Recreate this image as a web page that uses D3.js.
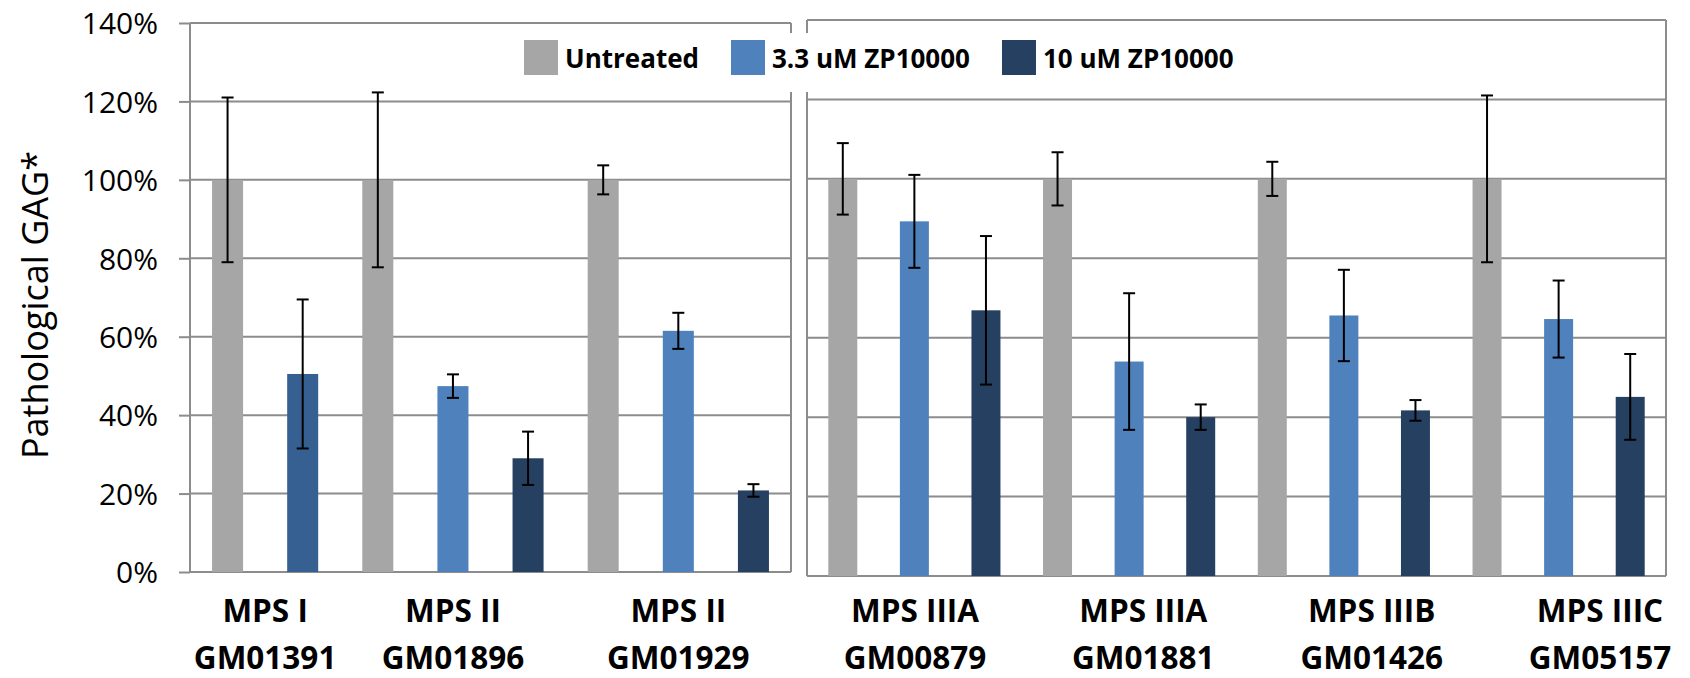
<!DOCTYPE html>
<html>
<head>
<meta charset="utf-8">
<script src="https://cdn.jsdelivr.net/npm/d3@7"></script>
<style>
  body { margin: 0; background: #fff; }
  svg { display: block; font-family: "Open Sans", sans-serif; }
</style>
</head>
<body>
<div class="chart-container"></div>
<script>
// DATA
const seriesNames = ["Untreated", "3.3 uM ZP10000", "10 uM ZP10000"];
const yTicks = [0, 20, 40, 60, 80, 100, 120, 140];

// left chart: MPS I has only two bars, the treated one drawn in its own blue
const leftGroups = [["MPS I", "GM01391"], ["MPS II", "GM01896"], ["MPS II", "GM01929"]];
const leftSlotGroup = [0, 0, 1, 1, 1, 2, 2, 2];
const leftSlotSeries = [0, 3, 0, 1, 2, 0, 1, 2];
const leftValues = [100, 50.5, 100, 47.4, 29.0, 100, 61.5, 20.8];
const leftErrors = [21.0, 19.0, 22.3, 3.0, 6.8, 3.7, 4.6, 1.6];

// right chart
const rightGroups = [["MPS IIIA", "GM00879"], ["MPS IIIA", "GM01881"], ["MPS IIIB", "GM01426"], ["MPS IIIC", "GM05157"]];
const rightSlotGroup = [0, 0, 0, 1, 1, 1, 2, 2, 2, 3, 3, 3];
const rightSlotSeries = [0, 1, 2, 0, 1, 2, 0, 1, 2, 0, 1, 2];
const rightValues = [100, 89.3, 66.9, 100, 54.0, 40.0, 100, 65.6, 41.7, 100, 64.7, 45.1];
const rightErrors = [9.0, 11.7, 18.7, 6.7, 17.2, 3.2, 4.3, 11.5, 2.6, 21.0, 9.7, 10.8];

// colours: untreated, 3.3 uM, 10 uM, MPS I treated
const colors = ["#a6a6a6", "#4f81bd", "#264061", "#376092"];
const gridColor = "#8c8c8c";

const width = 1690;
const height = 678;

const svg = d3.select(".chart-container")
  .append("svg")
  .attr("width", width)
  .attr("height", height);

// draws one framed panel with gridlines, bars and error bars
function drawPanel(p) {
  const yScale = d3.scaleLinear().domain([0, 140]).range([p.bottom, p.top]);
  const xScale = d3.scaleBand()
    .domain(d3.range(p.values.length))
    .range([p.left, p.right])
    .paddingInner(p.pad)
    .paddingOuter(p.pad / 2);

  const g = svg.append("g");

  // gridlines
  g.selectAll("line.grid")
    .data(yTicks)
    .enter()
    .append("line")
    .attr("class", "grid")
    .attr("x1", p.left)
    .attr("x2", p.right)
    .attr("y1", d => yScale(d))
    .attr("y2", d => yScale(d))
    .attr("stroke", gridColor)
    .attr("stroke-width", 2);

  // frame sides
  [p.left, p.right].forEach(x => {
    g.append("line")
      .attr("x1", x).attr("x2", x)
      .attr("y1", p.top).attr("y2", p.bottom)
      .attr("stroke", gridColor)
      .attr("stroke-width", 2);
  });

  // bars
  g.selectAll("rect.bar")
    .data(p.values)
    .enter()
    .append("rect")
    .attr("class", "bar")
    .attr("x", (d, i) => xScale(i))
    .attr("y", d => yScale(d))
    .attr("width", xScale.bandwidth())
    .attr("height", d => yScale(0) - yScale(d))
    .attr("fill", (d, i) => colors[p.series[i]]);

  // error bars
  const capW = 6;
  const eb = g.selectAll("g.err")
    .data(p.values)
    .enter()
    .append("g")
    .attr("class", "err")
    .attr("stroke", "#000")
    .attr("stroke-width", 2);

  const cx = (i) => xScale(i) + xScale.bandwidth() / 2;

  eb.append("line")
    .attr("x1", (d, i) => cx(i)).attr("x2", (d, i) => cx(i))
    .attr("y1", (d, i) => yScale(d + p.errors[i]))
    .attr("y2", (d, i) => yScale(d - p.errors[i]));
  eb.append("line")
    .attr("x1", (d, i) => cx(i) - capW).attr("x2", (d, i) => cx(i) + capW)
    .attr("y1", (d, i) => yScale(d + p.errors[i]))
    .attr("y2", (d, i) => yScale(d + p.errors[i]));
  eb.append("line")
    .attr("x1", (d, i) => cx(i) - capW).attr("x2", (d, i) => cx(i) + capW)
    .attr("y1", (d, i) => yScale(d - p.errors[i]))
    .attr("y2", (d, i) => yScale(d - p.errors[i]));

  return { xScale: xScale, yScale: yScale };
}

const left = drawPanel({
  left: 190, right: 791, top: 23, bottom: 572, pad: 0.587,
  values: leftValues, errors: leftErrors, series: leftSlotSeries
});

const right = drawPanel({
  left: 807, right: 1666, top: 20, bottom: 576, pad: 0.595,
  values: rightValues, errors: rightErrors, series: rightSlotSeries
});

// Y AXIS (left chart only)
const yAxis = d3.axisLeft(left.yScale)
  .tickValues(yTicks)
  .tickFormat(d => d + "%")
  .tickSize(11)
  .tickSizeOuter(0)
  .tickPadding(21);

const yAxisG = svg.append("g")
  .attr("transform", "translate(190,0)")
  .call(yAxis);
yAxisG.select(".domain").remove();
yAxisG.selectAll(".tick line").attr("stroke", gridColor).attr("stroke-width", 2);
yAxisG.selectAll(".tick text")
  .attr("fill", "#000")
  .style("font-family", "'Open Sans', sans-serif")
  .style("font-size", "30px")
  .attr("dy", "0.36em");

svg.append("text")
  .attr("transform", "rotate(-90)")
  .attr("x", -305)
  .attr("y", 48)
  .attr("text-anchor", "middle")
  .style("font-size", "36px")
  .attr("fill", "#000")
  .text("Pathological GAG*");

// CATEGORY LABELS
function groupLabels(groups, xPos) {
  const lab = svg.selectAll(null)
    .data(groups)
    .enter()
    .append("text")
    .attr("text-anchor", "middle")
    .style("font-size", "31.5px")
    .style("font-weight", "bold")
    .attr("fill", "#000");
  lab.append("tspan")
    .attr("x", (d, i) => xPos(i))
    .attr("y", 622)
    .text(d => d[0]);
  lab.append("tspan")
    .attr("x", (d, i) => xPos(i))
    .attr("y", 669)
    .text(d => d[1]);
}

// left labels sit under the middle of each bar group
groupLabels(leftGroups, function (gi) {
  const centers = leftSlotGroup
    .map((g, i) => g === gi ? left.xScale(i) + left.xScale.bandwidth() / 2 : null)
    .filter(v => v !== null);
  return d3.mean(centers);
});

// right labels are evenly spaced text boxes
const rightLabelScale = d3.scalePoint()
  .domain(d3.range(rightGroups.length))
  .range([915, 1600]);
groupLabels(rightGroups, i => rightLabelScale(i));

// LEGEND
svg.append("rect")
  .attr("x", 515)
  .attr("y", 33)
  .attr("width", 755)
  .attr("height", 59)
  .attr("fill", "#fff");

const legend = svg.append("g");
let lx = 524;
seriesNames.forEach(function (name, i) {
  legend.append("rect")
    .attr("x", lx)
    .attr("y", 40)
    .attr("width", 34)
    .attr("height", 35)
    .attr("fill", colors[i]);
  const t = legend.append("text")
    .attr("x", lx + 41)
    .attr("y", 68)
    .style("font-size", "26px")
    .style("font-weight", "bold")
    .attr("fill", "#000")
    .text(name);
  lx = lx + 41 + t.node().getComputedTextLength() + 32;
});
</script>
</body>
</html>
